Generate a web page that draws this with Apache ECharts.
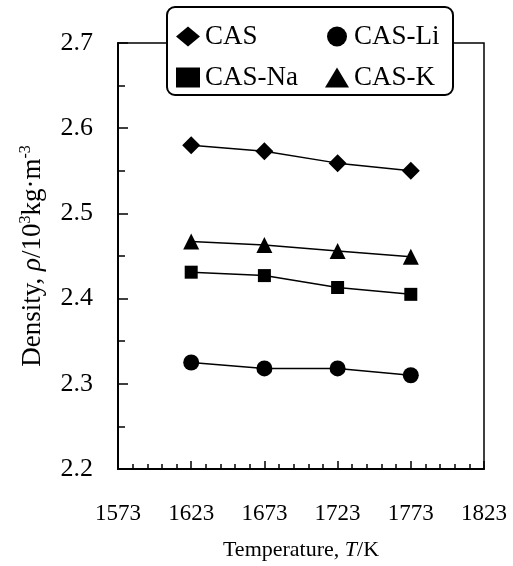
<!DOCTYPE html>
<html>
<head>
<meta charset="utf-8">
<script src="https://cdn.jsdelivr.net/npm/echarts@6/dist/echarts.min.js"></script>
<style>
  html, body { margin: 0; padding: 0; background: #fff; }
  #chart { width: 513px; height: 566px; }
</style>
</head>
<body>
<div id="chart"></div>
<script>
var temps = [1623, 1673, 1723, 1773];
var cas   = [2.580, 2.573, 2.559, 2.550];
var casLi = [2.325, 2.318, 2.318, 2.310];
var casNa = [2.431, 2.427, 2.413, 2.405];
var casK  = [2.467, 2.463, 2.456, 2.449];

var font = '"Liberation Serif", "Times New Roman", serif';

function pairs(vals) {
  return temps.map(function (t, i) { return [t, vals[i]]; });
}

function mkSeries(name, vals, symbol, size) {
  return {
    name: name,
    type: 'line',
    data: pairs(vals),
    symbol: symbol,
    symbolSize: size,
    color: '#000',
    lineStyle: { color: '#000', width: 1.5 },
    itemStyle: { color: '#000' },
    emphasis: { disabled: true }
  };
}

var chart = echarts.init(document.getElementById('chart'));
var option = {
  animation: false,
  backgroundColor: '#fff',
  grid: {
    left: 118, right: 29, top: 43, bottom: 97,
    show: true, borderColor: '#000', borderWidth: 1.5
  },
  graphic: [{
    type: 'rect',
    z: 3,
    shape: { x: 167, y: 7, width: 286, height: 88, r: 8 },
    style: { fill: '#fff', stroke: '#000', lineWidth: 2 }
  }],
  legend: [{
    z: 5,
    left: 171, top: 18,
    orient: 'vertical',
    itemWidth: 24, itemHeight: 20, itemGap: 14,
    data: [{ name: 'CAS', icon: 'diamond' }, { name: 'CAS-Na', icon: 'rect' }],
    textStyle: { fontFamily: font, fontSize: 27, color: '#000' }
  }, {
    z: 5,
    left: 320, top: 18,
    orient: 'vertical',
    itemWidth: 24, itemHeight: 20, itemGap: 14,
    data: [{ name: 'CAS-Li', icon: 'circle' }, { name: 'CAS-K', icon: 'triangle' }],
    textStyle: { fontFamily: font, fontSize: 27, color: '#000' }
  }],
  xAxis: {
    type: 'value',
    min: 1573, max: 1823, interval: 50,
    name: '{n|Temperature, }{i|T}{n|/K}',
    nameLocation: 'middle',
    nameGap: 70,
    nameTextStyle: {
      color: '#000',
      rich: {
        n: { fontFamily: font, fontSize: 22, color: '#000' },
        i: { fontFamily: font, fontSize: 22, fontStyle: 'italic', color: '#000' }
      }
    },
    axisLine: { lineStyle: { color: '#000', width: 2 } },
    axisTick: { inside: true, length: 8, lineStyle: { color: '#000', width: 1.5 } },
    minorTick: { show: true, splitNumber: 5, length: 5, lineStyle: { color: '#000', width: 1.5 } },
    splitLine: { show: false },
    axisLabel: {
      fontFamily: font, fontSize: 23, color: '#000', margin: 33,
      formatter: function (v) { return String(v); }
    }
  },
  yAxis: {
    type: 'value',
    min: 2.2, max: 2.7, interval: 0.1,
    name: '{n|Density, }{i|ρ}{n|/10}{s|3}{n|kg·m}{s|-3}',
    nameLocation: 'middle',
    nameGap: 70,
    nameTextStyle: {
      color: '#000',
      rich: {
        n: { fontFamily: font, fontSize: 27, color: '#000', lineHeight: 30 },
        i: { fontFamily: font, fontSize: 27, fontStyle: 'italic', color: '#000', lineHeight: 30 },
        s: { fontFamily: font, fontSize: 16, color: '#000', verticalAlign: 'top', lineHeight: 30 }
      }
    },
    axisLine: { lineStyle: { color: '#000', width: 2 } },
    axisTick: { inside: true, length: 10, lineStyle: { color: '#000', width: 1.5 } },
    minorTick: { show: true, splitNumber: 2, length: 7, lineStyle: { color: '#000', width: 1.5 } },
    splitLine: { show: false },
    axisLabel: {
      fontFamily: font, fontSize: 26, color: '#000', margin: 25,
      formatter: function (v) { return v.toFixed(1); }
    }
  },
  series: [
    mkSeries('CAS', cas, 'diamond', 18),
    mkSeries('CAS-Li', casLi, 'circle', 16),
    mkSeries('CAS-Na', casNa, 'rect', 13),
    mkSeries('CAS-K', casK, 'triangle', 16)
  ]
};
chart.setOption(option);
</script>
</body>
</html>
